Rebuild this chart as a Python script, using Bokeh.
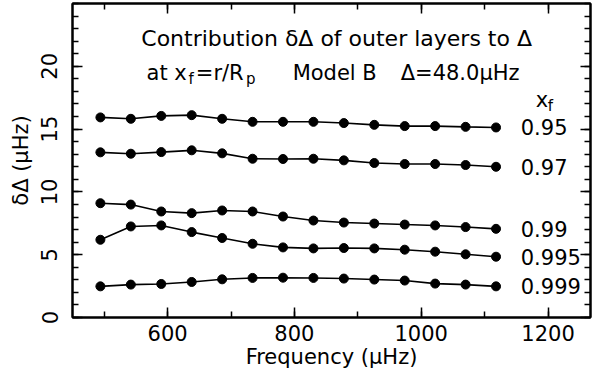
from bokeh.plotting import figure
from bokeh.models import Range1d, LinearAxis, FixedTicker, Label, CustomJSTickFormatter
from bokeh.embed import file_html
from bokeh.resources import INLINE

# ---- data ----
freq = [494, 542, 590, 638, 686, 734, 782, 830, 878, 926, 974, 1022, 1070, 1118]
d_095 = [15.93, 15.82, 16.05, 16.11, 15.82, 15.58, 15.58, 15.58, 15.48, 15.34, 15.24, 15.24, 15.18, 15.13]
d_097 = [13.15, 13.04, 13.17, 13.31, 13.07, 12.64, 12.62, 12.64, 12.51, 12.30, 12.22, 12.22, 12.14, 12.00]
d_099 = [9.10, 8.99, 8.44, 8.31, 8.52, 8.44, 8.04, 7.72, 7.56, 7.48, 7.40, 7.33, 7.20, 7.06]
d_0995 = [6.19, 7.25, 7.33, 6.80, 6.33, 5.87, 5.58, 5.50, 5.53, 5.50, 5.40, 5.24, 5.03, 4.84]
d_0999 = [2.48, 2.62, 2.67, 2.83, 3.04, 3.15, 3.17, 3.15, 3.10, 3.02, 2.94, 2.70, 2.62, 2.48]
series = [d_095, d_097, d_099, d_0995, d_0999]
series_labels = ["0.95", "0.97", "0.99", "0.995", "0.999"]

x_major = [600, 800, 1000, 1200]
x_minor = [500, 600, 700, 800, 900, 1000, 1100, 1200]
y_major = [0, 5, 10, 15, 20]
y_minor = list(range(0, 26))

FONT = "DejaVu Sans"
FS = "21px"
FS_TITLE = "22px"
FS_SUB = "15px"

p = figure(width=592, height=371, output_backend="svg", toolbar_location=None,
           x_range=Range1d(450, 1267), y_range=Range1d(0, 25),
           x_axis_location=None, y_axis_location=None,
           min_border_left=72, min_border_right=2, min_border_top=3, min_border_bottom=53)
p.background_fill_color = "white"
p.border_fill_color = "white"
p.outline_line_color = "black"
p.outline_line_width = 2
p.xgrid.visible = False
p.ygrid.visible = False


def style_axis(ax, labels=True):
    ax.axis_line_width = 2
    ax.axis_line_color = "black"
    ax.major_tick_in = 10
    ax.major_tick_out = 0
    ax.minor_tick_in = 6
    ax.minor_tick_out = 0
    ax.major_tick_line_width = 1.5
    ax.minor_tick_line_width = 1.5
    ax.major_label_text_font = FONT
    ax.major_label_text_font_size = FS if labels else "0px"
    ax.major_label_text_color = "black"
    ax.axis_label_text_font = FONT
    ax.axis_label_text_font_size = FS
    ax.axis_label_text_font_style = "normal"
    ax.axis_label_text_color = "black"
    if not labels:
        ax.formatter = CustomJSTickFormatter(code="return ''")
        ax.major_label_standoff = 0


xt = FixedTicker(ticks=x_major, minor_ticks=x_minor)
yt = FixedTicker(ticks=y_major, minor_ticks=y_minor)

xb = LinearAxis(ticker=xt, axis_label="Frequency (μHz)")
style_axis(xb)
xb.major_label_standoff = 7
xb.axis_label_standoff = 1
p.add_layout(xb, "below")

yl = LinearAxis(ticker=yt, axis_label="δΔ (μHz)")
style_axis(yl)
yl.major_label_orientation = "vertical"
yl.major_label_standoff = 15
yl.axis_label_standoff = 6
p.add_layout(yl, "left")

xtop = LinearAxis(ticker=xt)
style_axis(xtop, labels=False)
p.add_layout(xtop, "above")

yr = LinearAxis(ticker=yt)
style_axis(yr, labels=False)
p.add_layout(yr, "right")

for ys in series:
    p.line(freq, ys, line_color="black", line_width=1.6)
    p.scatter(freq, ys, size=9, fill_color="black", line_color="black")

label_x = 1157
for name, ys in zip(series_labels, series):
    p.add_layout(Label(x=label_x, y=ys[-1], text=name, text_font=FONT,
                       text_font_size=FS, text_baseline="alphabetic", text_color="black"))


def lab(x, y, t, size=FS, align="left"):
    p.add_layout(Label(x=x, y=y, text=t, text_font=FONT, text_font_size=size,
                       text_align=align, text_baseline="alphabetic", text_color="black"))


# header texts
lab(866.6, 22.22, "Contribution δΔ of outer layers to Δ", size=FS_TITLE, align="center")
lab(566.8, 19.44, "at x")
lab(633.0, 18.97, "f", size=FS_SUB)
lab(644.5, 19.44, "=r/R")
lab(723.5, 18.97, "p", size=FS_SUB)
lab(797.2, 19.44, "Model B")
lab(967.6, 19.44, "Δ=48.0μHz")
lab(1180.6, 17.30, "x")
lab(1199.6, 16.83, "f", size=FS_SUB)

open("out.html", "w").write(file_html(p, INLINE))
